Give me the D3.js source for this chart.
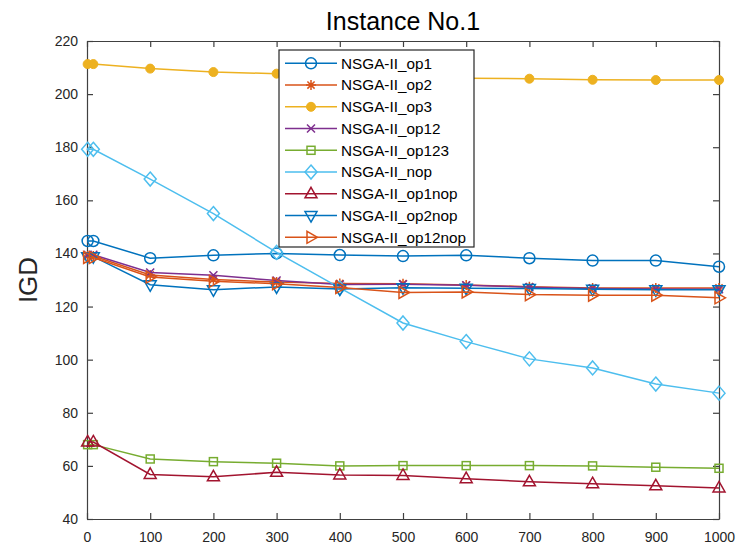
<!DOCTYPE html>
<html lang="en">
<head>
  <meta charset="UTF-8">
  <title>Instance No.1</title>
  <script src="https://d3js.org/d3.v7.min.js"></script>
  <style>
    body { margin: 0; background: #fff; }
    svg { display: block; font-family: "Liberation Sans", Arial, sans-serif; }
    .tick text { fill: #262626; }
  </style>
</head>
<body>
<svg id="chart"></svg>
<script>
  // x positions of the generations
  const generations = [1, 10, 100, 200, 300, 400, 500, 600, 700, 800, 900, 1000];

  const seriesNames = ["NSGA-II_op1", "NSGA-II_op2", "NSGA-II_op3", "NSGA-II_op12", "NSGA-II_op123",
    "NSGA-II_nop", "NSGA-II_op1nop", "NSGA-II_op2nop", "NSGA-II_op12nop"];

  const op1     = [144.7, 144.7, 138.2, 139.3, 140.0, 139.4, 139.0, 139.3, 138.2, 137.3, 137.3, 135.0];
  const op2     = [139.0, 139.0, 131.9, 130.2, 129.2, 128.7, 128.6, 128.1, 127.5, 127.0, 127.0, 127.0];
  const op3     = [211.3, 211.3, 209.6, 208.3, 207.7, 207.0, 206.5, 206.0, 205.8, 205.4, 205.3, 205.3];
  const op12    = [139.5, 139.5, 132.8, 131.8, 129.8, 128.3, 128.4, 128.0, 127.3, 126.8, 126.6, 126.5];
  const op123   = [68.0, 68.0, 62.6, 61.6, 61.0, 60.0, 60.1, 60.1, 60.1, 60.0, 59.5, 59.1];
  const nop     = [179.2, 179.2, 168.0, 155.0, 140.4, 127.0, 113.8, 106.8, 100.3, 96.9, 90.8, 87.4];
  const op1nop  = [69.0, 69.0, 56.8, 55.9, 57.6, 56.6, 56.4, 55.2, 54.0, 53.3, 52.5, 51.7];
  const op2nop  = [138.8, 138.8, 128.2, 126.3, 127.4, 126.6, 127.1, 126.9, 126.8, 126.5, 126.3, 126.3];
  const op12nop = [138.5, 138.5, 131.1, 129.5, 128.6, 127.2, 125.3, 125.5, 124.5, 124.3, 124.3, 123.3];

  const xTicks = [0, 100, 200, 300, 400, 500, 600, 700, 800, 900, 1000];
  const yTicks = [40, 60, 80, 100, 120, 140, 160, 180, 200, 220];

  const values = [op1, op2, op3, op12, op123, nop, op1nop, op2nop, op12nop];
  const colors = ["#0072BD", "#D95319", "#EDB120", "#7E2F8E", "#77AC30", "#4DBEEE", "#A2142F", "#0072BD", "#D95319"];
  const markers = ["o", "*", "dot", "x", "s", "d", "^", "v", ">"];

  const width = 741, height = 550;
  const margin = {top: 41, right: 22, bottom: 31, left: 87};

  const svg = d3.select("#chart")
    .attr("width", width)
    .attr("height", height);

  const x = d3.scaleLinear()
    .domain([0, 1000])
    .range([margin.left, width - margin.right]);

  const y = d3.scaleLinear()
    .domain([40, 220])
    .range([height - margin.bottom, margin.top]);

  // draws one marker into a group centred at 0,0
  function drawMarker(g, type, color) {
    const paths = {
      "*": "M-5,0H5M0,-5V5M-3.6,-3.6L3.6,3.6M-3.6,3.6L3.6,-3.6",
      "x": "M-4,-4L4,4M-4,4L4,-4",
      "d": "M0,-7L6,0L0,7L-6,0Z",
      "^": "M0,-6.5L6,4L-6,4Z",
      "v": "M0,6.5L6,-4L-6,-4Z",
      ">": "M6.5,0L-4,-6L-4,6Z"
    };
    if (type === "o") {
      g.append("circle").attr("r", 5.5).attr("fill", "none").attr("stroke", color).attr("stroke-width", 1.5);
    } else if (type === "dot") {
      g.append("circle").attr("r", 4.5).attr("fill", color).attr("stroke", color).attr("stroke-width", 1);
    } else if (type === "s") {
      g.append("rect").attr("x", -4).attr("y", -4).attr("width", 8).attr("height", 8)
        .attr("fill", "none").attr("stroke", color).attr("stroke-width", 1.5);
    } else {
      g.append("path").attr("d", paths[type]).attr("fill", "none")
        .attr("stroke", color).attr("stroke-width", 1.5).attr("stroke-linejoin", "miter");
    }
  }

  // axes (inward ticks, box on all sides)
  const axisColor = "#404040";

  svg.append("g")
    .attr("transform", `translate(0, ${height - margin.bottom})`)
    .call(d3.axisBottom(x).tickValues(xTicks).tickFormat(d3.format("d"))
      .tickSize(-6).tickSizeOuter(0).tickPadding(13))
    .call(g => g.selectAll("text").attr("font-size", "14px"));

  svg.append("g")
    .attr("transform", `translate(0, ${margin.top})`)
    .call(d3.axisTop(x).tickValues(xTicks).tickSize(-6).tickSizeOuter(0).tickFormat(""));

  svg.append("g")
    .attr("transform", `translate(${margin.left}, 0)`)
    .call(d3.axisLeft(y).tickValues(yTicks).tickSize(-6).tickSizeOuter(0).tickPadding(9))
    .call(g => g.selectAll("text").attr("font-size", "14px"));

  svg.append("g")
    .attr("transform", `translate(${width - margin.right}, 0)`)
    .call(d3.axisRight(y).tickValues(yTicks).tickSize(-6).tickSizeOuter(0).tickFormat(""));

  svg.selectAll(".domain, .tick line")
    .attr("stroke", axisColor)
    .attr("stroke-width", 1.2);

  svg.selectAll(".tick text").attr("font-family", "Liberation Sans, Arial, sans-serif");

  // series
  const line = d3.line()
    .x((d, i) => x(generations[i]))
    .y(d => y(d));

  values.forEach((vals, k) => {
    const g = svg.append("g");
    g.append("path")
      .datum(vals)
      .attr("d", line)
      .attr("fill", "none")
      .attr("stroke", colors[k])
      .attr("stroke-width", 1.5);

    g.selectAll(".m")
      .data(vals)
      .join("g")
      .attr("class", "m")
      .attr("transform", (d, i) => `translate(${x(generations[i])}, ${y(d)})`)
      .each(function() { drawMarker(d3.select(this), markers[k], colors[k]); });
  });

  // title and y label
  svg.append("text")
    .attr("x", (x(0) + x(1000)) / 2)
    .attr("y", 30)
    .attr("text-anchor", "middle")
    .attr("font-size", "25px")
    .attr("fill", "#000")
    .text("Instance No.1");

  svg.append("text")
    .attr("transform", `translate(37, ${(y(40) + y(220)) / 2}) rotate(-90)`)
    .attr("text-anchor", "middle")
    .attr("font-size", "26px")
    .attr("fill", "#262626")
    .text("IGD");

  // legend
  const legend = svg.append("g");
  legend.append("rect")
    .attr("x", 279)
    .attr("y", 50)
    .attr("width", 195)
    .attr("height", 197)
    .attr("fill", "#fff")
    .attr("stroke", "#262626")
    .attr("stroke-width", 1.2);

  const rows = legend.selectAll(".row")
    .data(seriesNames)
    .join("g")
    .attr("class", "row")
    .attr("transform", (d, i) => `translate(0, ${63.3 + i * 21.75})`);

  rows.append("line")
    .attr("x1", 285)
    .attr("x2", 337)
    .attr("stroke", (d, i) => colors[i])
    .attr("stroke-width", 1.5);

  rows.append("g")
    .attr("transform", "translate(311, 0)")
    .each(function(d, i) { drawMarker(d3.select(this), markers[i], colors[i]); });

  rows.append("text")
    .attr("x", 341)
    .attr("dy", "0.35em")
    .attr("font-size", "15.3px")
    .attr("fill", "#000")
    .text(d => d);
</script>
</body>
</html>
